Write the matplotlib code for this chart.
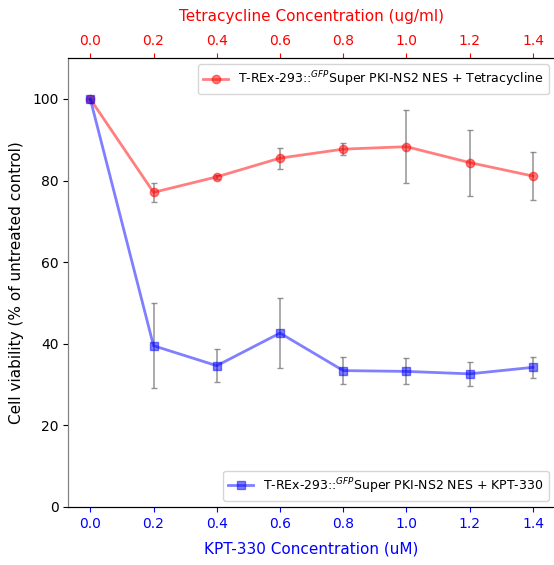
import matplotlib
matplotlib.use("Agg")
import matplotlib.pyplot as plt

# concentrations (same positions on both x axes)
kpt_conc = [0.0, 0.2, 0.4, 0.6, 0.8, 1.0, 1.2, 1.4]
tet_conc = [0.0, 0.2, 0.4, 0.6, 0.8, 1.0, 1.2, 1.4]

# cell viability (% of untreated control)
kpt_viability = [100, 39.5, 34.6, 42.6, 33.4, 33.2, 32.6, 34.2]
kpt_err = [0, 10.4, 4.1, 8.6, 3.3, 3.2, 2.9, 2.5]
tet_viability = [100, 77.1, 80.9, 85.5, 87.7, 88.3, 84.4, 81.1]
tet_err = [0, 2.4, 0.5, 2.6, 1.5, 9.0, 8.1, 5.9]

kpt_label = r"T-REx-293::$^{GFP}$Super PKI-NS2 NES + KPT-330"
tet_label = r"T-REx-293::$^{GFP}$Super PKI-NS2 NES + Tetracycline"

fig = plt.figure(figsize=(5.54, 5.65), dpi=100)
ax = fig.add_axes([0.123, 0.103, 0.879, 0.794])

# bottom axis: KPT-330
ax.errorbar(kpt_conc, kpt_viability, yerr=kpt_err, fmt="none", ecolor="gray",
            elinewidth=1.1, capsize=2, alpha=0.85)
ax.plot(kpt_conc, kpt_viability, color="blue", alpha=0.5, marker="s",
        markersize=6, linewidth=2, label=kpt_label)
ax.set_xlabel("KPT-330 Concentration (uM)", color="blue", fontsize=11, labelpad=8)
ax.set_ylabel("Cell viability (% of untreated control)", fontsize=11, labelpad=6)
ax.tick_params(axis="x", colors="blue")
ax.set_ylim(0, 110)
ax.set_xticks(kpt_conc)
ax.legend(loc="lower right", fontsize=9)

# top axis: Tetracycline
ax2 = ax.twiny()
ax2.errorbar(tet_conc, tet_viability, yerr=tet_err, fmt="none", ecolor="gray",
             elinewidth=1.1, capsize=2, alpha=0.85)
ax2.plot(tet_conc, tet_viability, color="red", alpha=0.5, marker="o",
         markersize=6, linewidth=2, label=tet_label)
ax2.set_xlabel("Tetracycline Concentration (ug/ml)", color="red", fontsize=11, labelpad=10)
ax2.tick_params(axis="x", colors="red")
ax2.set_xlim(ax.get_xlim())
ax2.set_xticks(tet_conc)
ax2.legend(loc="upper right", fontsize=9)

# blue series drawn above the red one
ax.set_zorder(ax2.get_zorder() + 1)
ax.patch.set_visible(False)

ax.spines["left"].set_color("gray")
ax2.spines["left"].set_color("gray")

fig.savefig("out.png", dpi=100)
